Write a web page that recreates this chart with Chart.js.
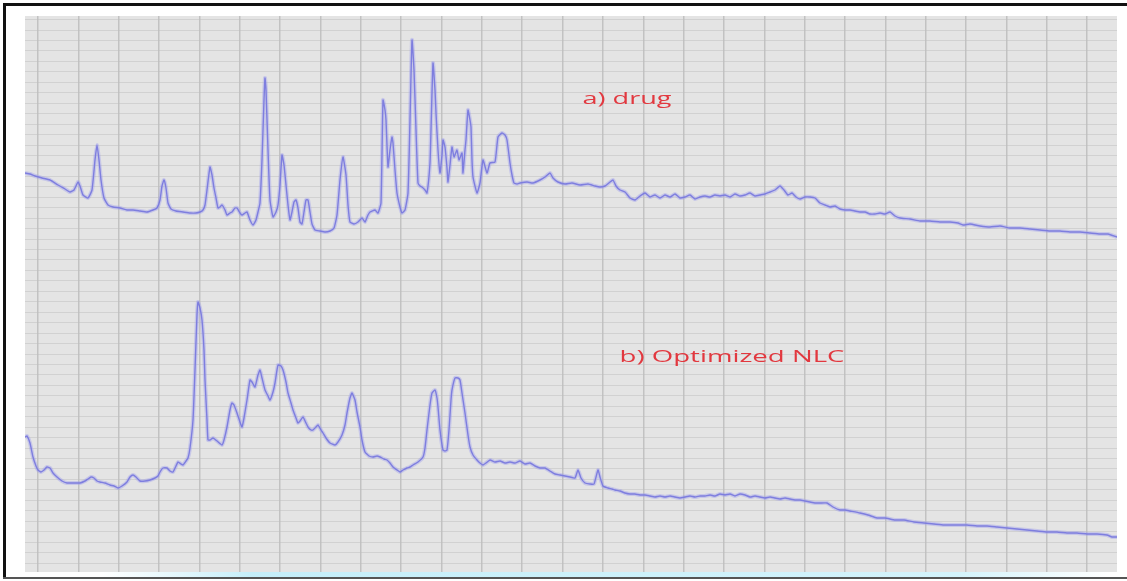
<!DOCTYPE html>
<html>
<head>
<meta charset="utf-8">
<title>XRD patterns: drug and optimized NLC</title>
<script src="https://cdn.jsdelivr.net/npm/chart.js@4.4.1/dist/chart.umd.min.js"></script>
<style>
  html, body { margin: 0; padding: 0; background: #ffffff; }
  canvas { display: block; }
</style>
</head>
<body>
<canvas id="xrd" width="1127" height="581"></canvas>
<script>
// Panel captions
const panelLabels = ['a) drug', 'b) Optimized NLC'];

// Diffractogram of the pure drug: [channel, counts]
const drugPattern = [
  [25,399],[30,398],[35,396],[42,394],[50,392],[58,387],[65,383],[70,380],[74,382],[78,390],
  [80,386],[83,377],[88,374],[92,382],[95,412],[97,427],[99,412],[101,392],[104,374],[108,367],
  [113,365],[120,364],[127,362],[133,362],[140,361],[147,360],[153,362],[157,364],[160,372],[162,386],
  [164,392],[166,384],[168,369],[171,363],[176,361],[183,360],[190,359],[196,359],[200,360],[203,362],
  [205,367],[207,382],[210,405],[212,397],[214,384],[216,374],[218,364],[220,365],[222,367],[225,362],
  [227,357],[230,359],[232,360],[235,364],[237,364],[240,359],[242,357],[245,359],[247,360],[250,352],
  [253,347],[256,352],[258,360],[260,369],[262,412],[264,472],[265,494],[266,482],[268,422],[270,372],
  [273,355],[276,360],[278,367],[280,387],[282,417],[284,407],[286,387],[288,367],[290,352],[292,360],
  [294,370],[296,372],[298,364],[300,350],[302,348],[304,360],[306,372],[308,372],[310,360],[312,348],
  [315,342],[320,341],[325,340],[330,341],[334,344],[337,357],[340,392],[343,415],[346,397],[348,367],
  [350,350],[354,348],[358,350],[362,354],[365,350],[368,357],[370,360],[375,362],[378,359],[381,369],
  [383,472],[385,462],[386,452],[388,405],[390,422],[392,435],[393,429],[395,402],[397,379],[400,365],
  [402,359],[405,362],[408,379],[410,452],[412,532],[414,502],[416,442],[418,389],[420,386],[422,385],
  [425,382],[427,379],[430,409],[431,442],[433,509],[435,482],[436,459],[438,422],[440,399],[442,417],
  [443,432],[445,425],[447,404],[448,390],[450,407],[452,425],[454,415],[457,422],[459,412],[462,419],
  [463,399],[465,422],[466,432],[468,462],[470,452],[471,445],[472,412],[473,395],[477,379],[480,389],
  [483,412],[487,399],[490,409],[495,410],[498,435],[502,439],[505,437],[507,432],[510,409],[512,397],
  [514,389],[517,388],[520,389],[527,390],[533,389],[540,392],[545,395],[550,399],[553,394],[558,390],
  [565,388],[572,389],[580,387],[588,388],[595,386],[600,385],[605,386],[610,390],[613,392],[616,386],
  [620,382],[625,380],[630,374],[635,372],[640,376],[645,379],[650,375],[655,377],[660,374],[665,377],
  [670,375],[675,378],[680,374],[685,375],[690,377],[695,373],[700,375],[705,376],[710,375],[715,377],
  [720,376],[725,377],[730,375],[735,378],[740,376],[745,377],[750,379],[755,376],[760,377],[765,378],
  [770,380],[775,382],[780,386],[784,382],[788,377],[792,379],[796,375],[800,373],[805,375],[810,375],
  [815,374],[820,369],[825,367],[830,365],[835,366],[840,363],[845,362],[850,362],[855,361],[860,360],
  [865,360],[870,358],[875,358],[880,359],[885,358],[890,360],[895,356],[900,354],[910,353],[920,351],
  [930,351],[940,350],[950,350],[958,349],[963,347],[970,348],[980,346],[990,345],[1000,346],[1010,344],
  [1020,344],[1030,343],[1040,342],[1050,341],[1060,341],[1070,340],[1080,340],[1090,339],[1100,338],[1108,338],
  [1117,335]
];

// Diffractogram of the optimized NLC: [channel, counts]
const nlcPattern = [
  [25,135],[27,136],[30,129],[33,115],[36,106],[38,102],[41,100],[44,102],[47,105],[50,104],
  [53,99],[57,95],[62,91],[67,89],[73,89],[80,89],[85,91],[88,93],[91,95],[94,94],
  [97,91],[100,90],[105,89],[110,87],[114,86],[118,84],[122,86],[127,90],[130,95],[133,97],
  [136,95],[140,91],[145,91],[150,92],[155,94],[158,96],[160,100],[163,104],[167,104],[170,101],
  [173,100],[176,106],[178,110],[181,108],[183,107],[186,111],[188,114],[190,124],[193,152],[195,202],
  [197,257],[198,270],[200,264],[202,252],[204,222],[205,192],[207,152],[208,132],[210,132],[213,134],
  [217,131],[222,127],[224,132],[227,145],[230,162],[232,169],[234,167],[237,159],[240,150],[242,145],
  [244,154],[247,172],[250,192],[252,190],[255,185],[258,197],[260,202],[262,194],[265,182],[268,176],
  [270,172],[273,180],[275,189],[278,207],[281,206],[283,202],[286,190],[288,179],[291,169],[293,162],
  [296,154],[298,149],[300,151],[303,155],[306,149],[308,145],[311,142],[313,142],[316,145],[318,147],
  [321,142],[323,139],[326,134],[330,129],[335,127],[338,130],[342,137],[345,147],[347,159],[350,174],
  [352,179],[355,172],[357,160],[360,145],[362,132],[365,120],[369,116],[373,115],[377,116],[380,115],
  [384,113],[387,112],[390,109],[393,105],[397,102],[400,100],[403,102],[407,104],[410,105],[413,107],
  [418,110],[423,115],[425,124],[427,142],[430,167],[432,179],[435,182],[437,174],[438,165],[440,142],
  [443,122],[445,121],[447,122],[449,142],[451,172],[452,182],[455,194],[458,194],[460,192],[462,179],
  [465,159],[468,137],[470,125],[473,117],[477,112],[480,109],[483,107],[486,109],[490,112],[495,110],
  [500,111],[505,109],[510,110],[515,109],[520,111],[525,108],[530,109],[535,106],[540,104],[545,104],
  [550,101],[555,98],[560,97],[565,96],[570,95],[575,94],[578,102],[581,94],[585,89],[590,88],
  [594,88],[598,102],[600,95],[603,86],[608,84],[612,83],[615,82],[620,81],[625,79],[630,78],
  [635,78],[640,77],[645,77],[650,76],[655,75],[660,76],[665,75],[670,76],[675,75],[680,74],
  [685,75],[690,76],[695,75],[700,76],[705,76],[710,77],[715,76],[720,78],[725,77],[730,78],
  [735,76],[740,78],[745,77],[750,75],[755,76],[760,75],[765,74],[770,75],[775,74],[780,73],
  [785,74],[790,73],[795,72],[800,72],[805,71],[810,70],[815,69],[820,69],[827,69],[833,65],
  [840,62],[845,62],[850,61],[860,59],[868,57],[877,54],[885,54],[895,52],[904,52],[914,50],
  [924,49],[934,48],[944,47],[955,47],[967,47],[977,46],[987,46],[997,45],[1007,44],[1017,43],
  [1027,42],[1037,41],[1047,40],[1057,40],[1067,39],[1077,39],[1087,38],[1097,38],[1107,37],[1112,35],
  [1117,35]
];

// Axis extents and chart-paper grid pitch
const xRange = [25, 1117];
const yRange = [0, 556];
const xGridStart = 38, xGridPitch = 40.35;
const yGridStart = 9, yGridPitch = 10.45;

const toPoints = arr => arr.map(([x, y]) => ({ x, y }));

const TRACE = 'rgba(100, 100, 212, 0.95)';
const HALO = 'rgba(155, 155, 238, 0.4)';

function traceSet(points, color, width) {
  return {
    data: toPoints(points),
    borderColor: color,
    borderWidth: width,
    pointRadius: 0,
    tension: 0.15,
    fill: false
  };
}

// Page, frame and chart-paper background
const paperPlugin = {
  id: 'paper',
  beforeDraw(chart) {
    const { ctx, chartArea: a, width, height } = chart;
    ctx.save();
    ctx.fillStyle = '#ffffff';
    ctx.fillRect(0, 0, width, height);
    ctx.fillStyle = '#e4e4e4';
    ctx.fillRect(a.left, a.top, a.right - a.left, a.bottom - a.top);
    // faint cyan glow along the lower edge
    const g = ctx.createLinearGradient(100, 0, 1110, 0);
    g.addColorStop(0, 'rgba(200,240,250,0)');
    g.addColorStop(0.15, 'rgba(190,236,248,0.9)');
    g.addColorStop(0.85, 'rgba(200,240,250,0.8)');
    g.addColorStop(1, 'rgba(200,240,250,0)');
    ctx.fillStyle = g;
    ctx.fillRect(100, a.bottom, 1010, 5);
    // frame
    ctx.fillStyle = '#111111';
    ctx.fillRect(3, 3, width - 3, 3);
    ctx.fillRect(3, 3, 3, height - 5);
    ctx.fillStyle = '#555555';
    ctx.fillRect(3, height - 4, width - 3, 2);
    ctx.restore();
  }
};

// Red panel captions, drawn wide
const captionPlugin = {
  id: 'captions',
  afterDatasetsDraw(chart) {
    const { ctx } = chart;
    const items = [
      { text: panelLabels[0], cx: 627, cy: 99, w: 89 },
      { text: panelLabels[1], cx: 732, cy: 357, w: 225 }
    ];
    ctx.save();
    ctx.font = '17px "Open Sans", "Liberation Sans", sans-serif';
    ctx.fillStyle = '#e2383f';
    ctx.textAlign = 'center';
    ctx.textBaseline = 'middle';
    for (const it of items) {
      const m = ctx.measureText(it.text).width;
      const s = it.w / m;
      ctx.save();
      ctx.translate(it.cx, it.cy);
      ctx.scale(s, 1);
      ctx.fillText(it.text, 0, 0);
      ctx.restore();
    }
    ctx.restore();
  }
};

new Chart(document.getElementById('xrd'), {
  type: 'line',
  data: {
    datasets: [
      traceSet(drugPattern, HALO, 4),
      traceSet(drugPattern, TRACE, 1.4),
      traceSet(nlcPattern, HALO, 4),
      traceSet(nlcPattern, TRACE, 1.4)
    ]
  },
  options: {
    responsive: false,
    animation: false,
    events: [],
    layout: { padding: { left: 25, right: 10, top: 16, bottom: 9 } },
    plugins: { legend: { display: false }, tooltip: { enabled: false } },
    scales: {
      x: {
        type: 'linear',
        min: xRange[0],
        max: xRange[1],
        afterBuildTicks(axis) {
          const t = [];
          for (let v = xGridStart; v <= xRange[1]; v += xGridPitch) t.push({ value: v });
          axis.ticks = t;
        },
        ticks: { display: false },
        grid: { color: 'rgba(160,160,160,0.5)', lineWidth: 1.5, drawTicks: false },
        border: { display: false }
      },
      y: {
        type: 'linear',
        min: yRange[0],
        max: yRange[1],
        afterBuildTicks(axis) {
          const t = [];
          for (let v = yGridStart; v <= yRange[1]; v += yGridPitch) t.push({ value: v });
          axis.ticks = t;
        },
        ticks: { display: false },
        grid: { color: 'rgba(190,190,190,0.5)', lineWidth: 1, drawTicks: false },
        border: { display: false }
      }
    }
  },
  plugins: [paperPlugin, captionPlugin]
});
</script>
</body>
</html>
